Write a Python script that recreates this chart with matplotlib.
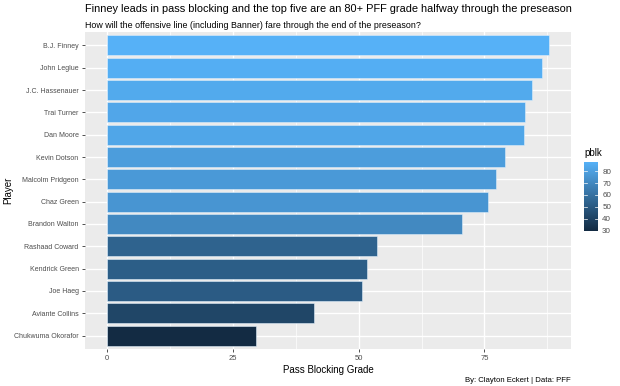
import numpy as np
import matplotlib
matplotlib.use("Agg")
from matplotlib import pyplot as plt
from matplotlib.colors import LinearSegmentedColormap, Normalize

# data
players = ["B.J. Finney", "John Leglue", "J.C. Hassenauer", "Trai Turner", "Dan Moore",
           "Kevin Dotson", "Malcolm Pridgeon", "Chaz Green", "Brandon Walton",
           "Rashaad Coward", "Kendrick Green", "Joe Haeg", "Aviante Collins",
           "Chukwuma Okorafor"]
pblk = [87.8, 86.4, 84.5, 83.1, 82.9, 79.1, 77.3, 75.7, 70.5,
        53.7, 51.7, 50.7, 41.2, 29.6]
x_ticks = [0, 25, 50, 75]
cbar_ticks = [30, 40, 50, 60, 70, 80]

plt.rcParams['font.family'] = ['Liberation Sans', 'DejaVu Sans']

cmap = LinearSegmentedColormap.from_list("gg", ["#132B43", "#56B1F7"])
norm = Normalize(vmin=min(pblk), vmax=max(pblk))

fig = plt.figure(figsize=(6.2, 3.86), dpi=100)
ax = fig.add_axes([85/620, 1 - 349/386, (571-85)/620, (349-32)/386])

ax.set_facecolor("#EBEBEB")
for s in ax.spines.values():
    s.set_visible(False)

y = np.arange(len(players))[::-1]
ax.barh(y, pblk, height=0.9, color=cmap(norm(np.array(pblk))), zorder=3,
        edgecolor="#dfeefa", linewidth=0.4)

xmax = max(pblk)
ax.set_xlim(-0.05*xmax, 1.05*xmax)
ax.set_ylim(-0.6, len(players) - 0.4)
ax.set_xticks(x_ticks)
ax.set_xticks([12.5, 37.5, 62.5, 87.5], minor=True)
ax.set_yticks(y)
ax.set_yticklabels(players)
ax.grid(True, which="major", color="white", linewidth=1.0, zorder=0)
ax.grid(True, which="minor", axis="x", color="white", linewidth=0.5, zorder=0)
ax.tick_params(axis="both", which="major", length=2.5, width=0.6, color="#333333",
               labelsize=5.5, labelcolor="#4D4D4D", pad=2)
ax.tick_params(axis="y", labelsize=5.0)
ax.tick_params(which="minor", length=0)

ax.set_xlabel("Pass Blocking Grade", fontsize=7, labelpad=2)
ax.set_ylabel("Player", fontsize=7)
ax.yaxis.set_label_coords((13 - 85) / (571 - 85), 0.5)

fig.text(85/620, 1 - 9/386, "Finney leads in pass blocking and the top five are an 80+ PFF grade halfway through the preseason",
         fontsize=7.9, va="center", ha="left")
fig.text(85/620, 1 - 25/386, "How will the offensive line (including Banner) fare through the end of the preseason?",
         fontsize=6.4, va="center", ha="left")
fig.text(571/620, 1 - 380/386, "By: Clayton Eckert | Data: PFF", fontsize=5.6, va="center", ha="right")

# colour bar legend
cax = fig.add_axes([584/620, 1 - 231/386, 14/620, (231-162)/386])
grad = np.linspace(norm.vmin, norm.vmax, 200).reshape(-1, 1)
cax.imshow(grad, aspect="auto", cmap=cmap, norm=norm, origin="lower",
           extent=[0, 1, norm.vmin, norm.vmax])
cax.set_xticks([])
cax.set_yticks(cbar_ticks)
cax.yaxis.tick_right()
cax.tick_params(axis="y", length=0, labelsize=5.8, labelcolor="#4D4D4D", pad=3)
for t in cbar_ticks:
    cax.plot([0, 0.2], [t, t], color="white", lw=0.5)
    cax.plot([0.8, 1], [t, t], color="white", lw=0.5)
cax.set_xlim(0, 1)
cax.set_ylim(norm.vmin, norm.vmax)
for s in cax.spines.values():
    s.set_visible(False)
fig.text(584/620, 1 - 153/386, "pblk", fontsize=7, va="center", ha="left")

fig.savefig("out.png", dpi=100)
